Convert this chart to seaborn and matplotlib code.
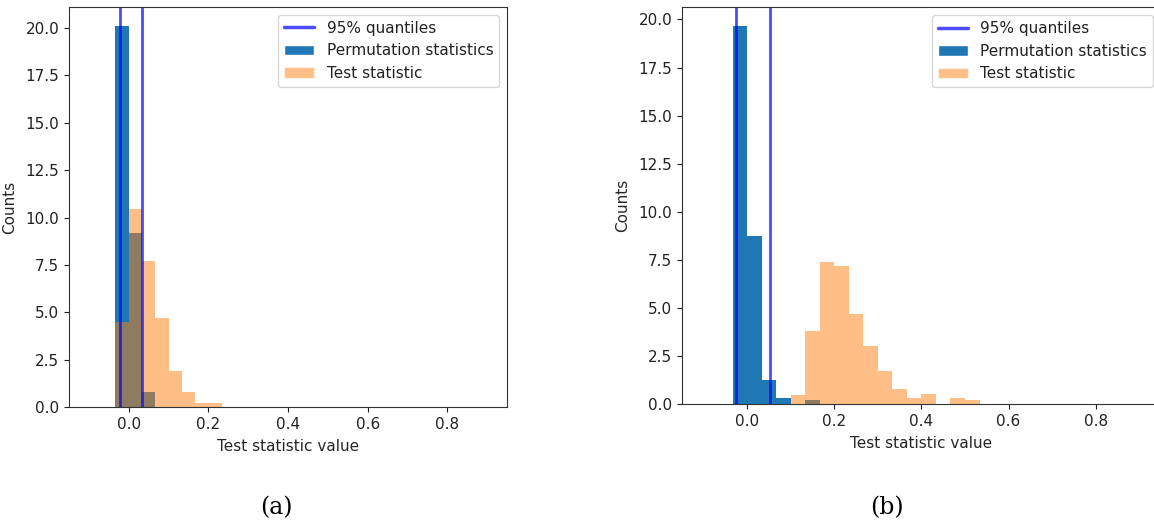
import numpy as np
import pandas as pd
import matplotlib
matplotlib.use("Agg")
import matplotlib.pyplot as plt
import seaborn as sns
from matplotlib.lines import Line2D
from matplotlib.patches import Patch

# bin edges shared by both panels (30 bins of width 1/30 from -0.1 to 0.9)
bin_edges = np.linspace(-0.1, 0.9, 31)
bin_centers = (bin_edges[:-1] + bin_edges[1:]) / 2

# panel (a) densities per bin
perm_a = [0, 0, 20.1, 9.2, 0.8, 0, 0, 0, 0, 0,
          0, 0, 0, 0, 0, 0, 0, 0, 0, 0,
          0, 0, 0, 0, 0, 0, 0, 0, 0, 0]
test_a = [0, 0, 4.5, 10.45, 7.7, 4.7, 1.9, 0.8, 0.23, 0.23,
          0, 0, 0, 0, 0, 0, 0, 0, 0, 0,
          0, 0, 0, 0, 0, 0, 0, 0, 0, 0]
quant_a = [-0.021, 0.033]

# panel (b) densities per bin
perm_b = [0, 0, 19.65, 8.75, 1.25, 0.3, 0, 0.2, 0, 0,
          0, 0, 0, 0, 0, 0, 0, 0, 0, 0,
          0, 0, 0, 0, 0, 0, 0, 0, 0, 0]
test_b = [0, 0, 0, 0, 0, 0, 0.47, 3.8, 7.4, 7.2,
          4.66, 3.03, 1.73, 0.78, 0.3, 0.5, 0, 0.31, 0.21, 0,
          0, 0, 0, 0, 0, 0, 0, 0, 0, 0]
quant_b = [-0.026, 0.053]

sns.set_style("ticks")
plt.rcParams['font.family'] = ['DejaVu Sans']
plt.rcParams['font.size'] = 11
plt.rcParams['text.color'] = '#222222'
plt.rcParams['xtick.color'] = '#222222'
plt.rcParams['ytick.color'] = '#222222'

BLUE = '#1f77b4'
ORANGE = '#ff7f0e'

fig = plt.figure(figsize=(11.54, 5.25), dpi=100)
ax_a = fig.add_axes([0.0598, 0.2242, 0.3796, 0.7625])
ax_b = fig.add_axes([0.5910, 0.2305, 0.4150, 0.7556])


def draw_panel(ax, perm, test, quants):
    df = pd.DataFrame({'center': bin_centers, 'perm': perm, 'test': test})
    edges = list(bin_edges)
    sns.histplot(data=df, x='center', weights='perm', bins=edges, ax=ax,
                 color=BLUE, alpha=1.0, linewidth=0, stat='count')
    sns.histplot(data=df, x='center', weights='test', bins=edges, ax=ax,
                 color=ORANGE, alpha=0.5, linewidth=0, stat='count')
    for q in quants:
        ax.axvline(q, color='blue', alpha=0.7, linewidth=2)

    ax.set_xlim(-0.15, 0.95)
    ax.set_ylim(0, max(max(perm), max(test)) * 1.05)
    ax.set_xticks([0.0, 0.2, 0.4, 0.6, 0.8])
    ax.set_xlabel('Test statistic value', labelpad=5)
    ax.set_ylabel('Counts', labelpad=6)
    for s in ax.spines.values():
        s.set_visible(True)
        s.set_color('#333333')

    handles = [
        Line2D([0], [0], color='blue', alpha=0.7, linewidth=2.5),
        Patch(facecolor=BLUE),
        Patch(facecolor=ORANGE, alpha=0.5),
    ]
    labels = ['95% quantiles', 'Permutation statistics', 'Test statistic']
    ax.legend(handles, labels, loc='upper right')


draw_panel(ax_a, perm_a, test_a, quant_a)
draw_panel(ax_b, perm_b, test_b, quant_b)

fig.text(276 / 1154, 1 - 508 / 525, '(a)', family='DejaVu Serif',
         fontsize=17, ha='center', va='center', color='black')
fig.text(887 / 1154, 1 - 508 / 525, '(b)', family='DejaVu Serif',
         fontsize=17, ha='center', va='center', color='black')

fig.savefig('out.png', dpi=100)
